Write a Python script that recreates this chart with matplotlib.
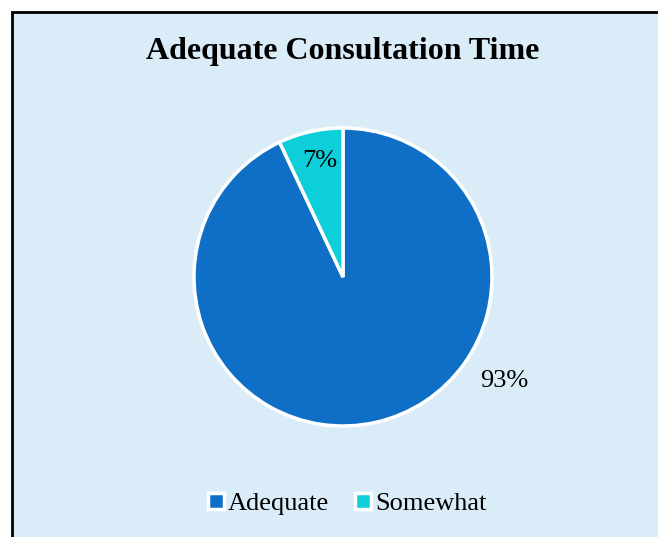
import numpy as np
import matplotlib
matplotlib.use("Agg")
import matplotlib.pyplot as plt
from matplotlib.patches import Rectangle
from matplotlib.lines import Line2D

categories = ["Adequate", "Somewhat"]
values = [93, 7]
colors = ["#0F6FC6", "#0DCFDA"]
title = "Adequate Consultation Time"

plt.rcParams["font.family"] = ["Liberation Serif", "DejaVu Serif"]

W, H = 658, 537
fig = plt.figure(figsize=(W / 100, H / 100), dpi=100, facecolor="white")

# chart area background with border (cropped at right and bottom)
fig.patches.append(Rectangle((12 / W, -0.05), 1.0, (H - 12) / H + 0.05,
                             transform=fig.transFigure, facecolor="#DAECF8",
                             edgecolor="black", linewidth=2, zorder=-10))

fig.text(343 / W, 1 - 52 / H, title, ha="center", va="center",
         fontsize=23, fontweight="bold")

# pie axes: centre (343, 277) px, radius 149 px
half = 200
ax = fig.add_axes([(343 - half) / W, (H - 277 - half) / H, 2 * half / W, 2 * half / H])
ax.set_facecolor("none")
r = 149
wedges, _ = ax.pie(values, colors=colors, startangle=90, counterclock=False,
                   radius=1.0, wedgeprops=dict(edgecolor="white", linewidth=2.5))
ax.set_xlim(-half / r, half / r)
ax.set_ylim(-half / r, half / r)
ax.set_aspect("equal")
ax.axis("off")

# data labels
label_pos = [(161 / r, -104 / r), (-23 / r, 116 / r)]
for (x, y), v in zip(label_pos, values):
    ax.text(x, y, f"{v}%", ha="center", va="center", fontsize=19)

handles = [Line2D([0], [0], marker="s", linestyle="none", markersize=11,
                  markerfacecolor=c, markeredgecolor="white", markeredgewidth=2.5)
           for c in colors]
fig.legend(handles, categories, loc="center", bbox_to_anchor=(347 / W, 1 - 503 / H),
           ncol=2, frameon=False, fontsize=19, handlelength=0.6, handletextpad=0.15,
           columnspacing=1.0)

fig.savefig("out.png", dpi=100, facecolor="white")
